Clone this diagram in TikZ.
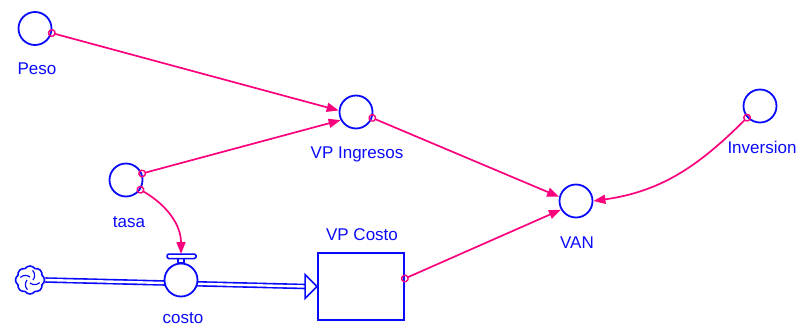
\documentclass[tikz,border=0pt]{standalone}
\usepackage{fontspec}
\setmainfont{Liberation Sans}
\usetikzlibrary{arrows.meta,shapes.symbols}
\definecolor{varblue}{RGB}{10,10,250}
\definecolor{linkpink}{RGB}{250,0,125}

\begin{document}
\begin{tikzpicture}[x=1pt,y=-1pt]
        \tikzset{aux circle/.style={draw=varblue,circle,minimum size=33pt,inner sep=0pt,line width=1.8pt,fill=white},
          var label/.style={text=varblue,anchor=base,font=\fontsize{17}{20}\selectfont},
          link/.style={draw=linkpink,line width=1.7pt,{Circle[open,length=8pt,width=8pt,line width=1.4pt]}-{Triangle[length=12pt,width=9pt]},shorten <=-4pt},
          pipe/.style={draw=varblue,double=white,double distance=2.4pt,line width=1.6pt}}
        \useasboundingbox (0,0) rectangle (800,327);

        \node[aux circle] (peso) at (35,28.5) {};
        \node[aux circle] (vping) at (356,112) {};
        \node[aux circle] (tasa) at (126,180) {};
        \node[aux circle] (van) at (576,201) {};
        \node[aux circle] (inv) at (760,106) {};
        \node[draw=varblue,line width=1.8pt,minimum width=86pt,minimum height=67pt,inner sep=0pt] (vpcosto) at (361,286.5) {};
        \node[cloud,cloud puffs=8,cloud puff arc=110,draw=varblue,line width=1.6pt,minimum width=29pt,minimum height=28pt,inner sep=0pt] (src) at (30,280) {};
        \foreach \a in {0,90,180,270}
          \draw[varblue,line width=1.2pt] ([shift={(\a:3pt)}]src.center) to[bend right=40] ([shift={(\a+75:10pt)}]src.center);

        % flow
        \coordinate (pipeend) at ([xshift=-12pt]vpcosto.west);
        \draw[pipe] (src.east) -- (pipeend);
        \draw[varblue,line width=1.6pt,fill=white] (vpcosto.west) -- ++(-12,-12) -- ++(0,24) -- cycle;
        \node[aux circle] (costo) at (181,280) {};
        \draw[varblue,line width=1.5pt,fill=white] ([xshift=-3pt]costo.north) rectangle ([xshift=3pt,yshift=5pt]costo.north);
        \draw[varblue,line width=1.5pt,fill=white,rounded corners=1.5pt] (167,254) rectangle (196,258.5);
        \coordinate (valvetop) at (181,254);

        % links
        \draw[link] (peso.-15) -- (vping.175);
        \draw[link] (tasa.22) -- (vping.-152);
        \draw[link] (tasa.-34) to[out=-30,in=90] (valvetop);
        \draw[link] (vping.-20) -- (van.166);
        \draw[link] ([yshift=8pt]vpcosto.east) -- (van.210);
        \draw[link] (inv.222) to[out=225,in=8] (van.0);

        \node[var label] (pesolbl) at (37,74) {Peso};
        \node[var label] (vpinglbl) at (357,158) {VP Ingresos};
        \node[var label] (tasalbl) at (129,227) {tasa};
        \node[var label] (vanlbl) at (577,248) {VAN};
        \node[var label] (invlbl) at (762,153) {Inversion};
        \node[var label] (costolbl) at (183,323) {costo};
        \node[var label] (vpcostolbl) at (362,240) {VP Costo};
    \end{tikzpicture}
\end{document}
